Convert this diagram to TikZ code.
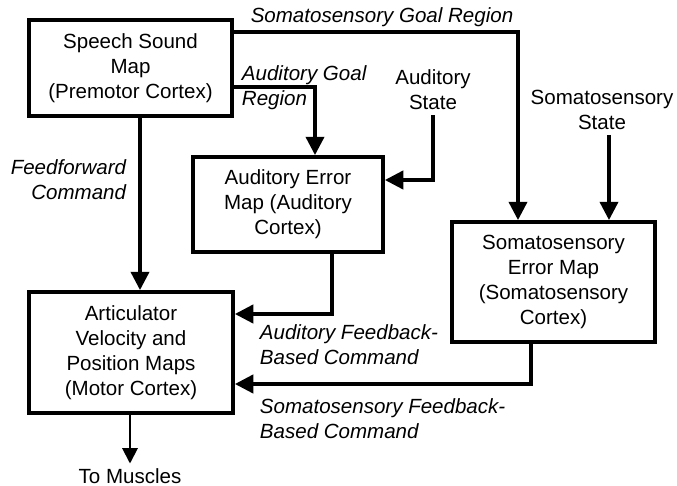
\documentclass[tikz,border=0pt]{standalone}
\usepackage{fontspec}
\setmainfont{Liberation Sans}
\usetikzlibrary{arrows.meta}

\begin{document}
\begin{tikzpicture}[x=0.025cm, y=-0.025cm]
\tikzset{boite/.style={draw, line width=2.8pt, rectangle, align=center, inner sep=0pt, font=\fontsize{14.6}{17.8}\selectfont},
etiq/.style={font=\fontsize{14.6}{17.8}\selectfont\itshape},
fleche/.style={line width=2.3pt, -{Triangle[length=13pt, width=13pt]}}}
\useasboundingbox (0,0) rectangle (677,486);
\node[boite, minimum width=203*0.025cm, minimum height=96*0.025cm] (SSM) at (130.5,68) {Speech Sound\\Map\\(Premotor Cortex)};
\node[boite, minimum width=190*0.025cm, minimum height=95*0.025cm] (AEM) at (288,204.5) {Auditory Error\\Map (Auditory\\Cortex)};
\node[boite, minimum width=203*0.025cm, minimum height=120*0.025cm] (SEM) at (553.5,282) {Somatosensory\\Error Map\\(Somatosensory\\Cortex)};
\node[boite, minimum width=204*0.025cm, minimum height=121*0.025cm] (AVP) at (131,352.5) {Articulator\\Velocity and\\Position Maps\\(Motor Cortex)};
\node[align=center, font=\fontsize{14.6}{17.8}\selectfont] (AS) at (433,90) {Auditory\\State};
\node[align=center, font=\fontsize{14.6}{17.8}\selectfont] (SS) at (602,110) {Somatosensory\\State};
\node[font=\fontsize{14.6}{17.8}\selectfont] (TM) at (130,476) {To Muscles};
\node[etiq] (SGR) at (382,17) {Somatosensory Goal Region};
\node[etiq, anchor=west, align=left] (AGR) at (237,88) {Auditory Goal\\Region};
\node[etiq, anchor=east, align=right] (FFC) at (131,180) {Feedforward\\Command};
\node[etiq, anchor=west, align=left] (AFB) at (255,345) {Auditory Feedback-\\Based Command};
\node[etiq, anchor=west, align=left] (SFB) at (255,419) {Somatosensory Feedback-\\Based Command};
\coordinate (c1) at (518,32);
\coordinate (c2) at (315,87);
\coordinate (c3) at (433,180);
\coordinate (c4) at (332,314);
\coordinate (c5) at (531,384);
\coordinate (c6) at (140,0);
\coordinate (c7) at (609,0);
\draw[fleche] (SSM.east |- c1) -- (c1) -- (SEM.north -| c1);
\draw[fleche] (SSM.east |- c2) -- (c2) -- (AEM.north -| c2);
\draw[fleche] (AS.south) -- (c3) -- (AEM.east |- c3);
\draw[fleche] (SS.south -| c7) -- (SEM.north -| c7);
\draw[fleche] (SSM.south -| c6) -- (AVP.north -| c6);
\draw[fleche] (AEM.south -| c4) -- (c4) -- (AVP.east |- c4);
\draw[fleche] (SEM.south -| c5) -- (c5) -- (AVP.east |- c5);
\draw[line width=1.4pt, -{Triangle[length=11pt, width=11pt]}] (AVP.south -| TM.north) -- (TM.north);
\end{tikzpicture}
\end{document}
